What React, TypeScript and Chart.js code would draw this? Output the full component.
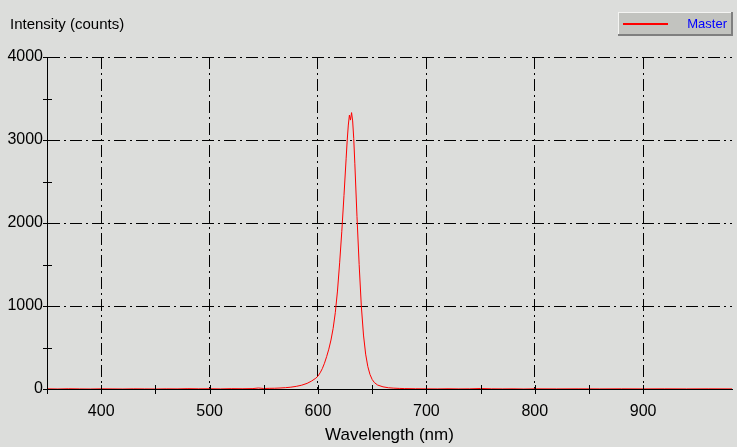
import React, { useEffect, useRef } from "react";
import { Chart, registerables } from "chart.js";
Chart.register(...registerables);

const wavelengths = [
  350, 360, 370, 380, 390, 400, 410, 420, 430, 440,
  450, 460, 470, 480, 490, 500, 510, 520, 530, 540,
  545, 550, 555, 560, 565, 570, 575, 580, 585, 590,
  594, 598, 600, 602, 604, 606, 608, 610, 612, 614,
  616, 618, 620, 622, 624, 626, 627, 628, 629, 630,
  631, 632, 633, 634, 636, 638, 640, 642, 644, 646,
  648, 650, 652, 655, 660, 665, 670, 675, 680, 690,
  700, 710, 720, 730, 740, 750, 760, 770, 780, 790,
  800, 820, 840, 860, 880, 900, 920, 940, 960, 982,
];
const intensities = [
  2, 0, 3, 1, 0, 2, 1, 0, 2, 1,
  0, 2, 1, 4, 2, 3, 1, 4, 3, 5,
  12, 6, 8, 9, 12, 16, 22, 32, 46, 68,
  95, 130, 155, 195, 245, 310, 390, 480, 590, 730,
  920, 1180, 1520, 1900, 2330, 2780, 3000, 3180, 3300, 3240,
  3330, 3230, 3020, 2720, 2080, 1500, 1000, 650, 420, 270,
  175, 115, 78, 48, 26, 15, 10, 7, 5, 3,
  2, 1, 3, 1, 2, 6, 2, 1, 2, 0,
  2, 1, 2, 1, 2, 1, 2, 1, 2, 1,
];
const xTickLabels = [400, 500, 600, 700, 800, 900];
const yTickLabels = [1000, 2000, 3000, 4000, 0];
const seriesName = "Master";
const yTitle = "Intensity (counts)";
const xTitle = "Wavelength (nm)";
const xMin = 350;
const xMax = 982;
const yMin = 0;
const yMax = 4000;

const BG = "#dcdddb";
const FONT = "'Liberation Sans', Arial, sans-serif";

export default function App() {
  const ref = useRef<HTMLCanvasElement | null>(null);
  useEffect(() => {
    document.body.style.margin = "0";
    document.body.style.background = BG;
    const canvas = ref.current!;
    const decor = {
      id: "decor",
      beforeDraw(chart: any) {
        const c = chart.ctx;
        c.save();
        c.fillStyle = BG;
        c.fillRect(0, 0, chart.width, chart.height);
        c.restore();
      },
      afterDraw(chart: any) {
        const c = chart.ctx;
        const xs = chart.scales.x;
        const ys = chart.scales.y;
        const area = chart.chartArea;
        c.save();
        c.strokeStyle = "#000";
        c.lineWidth = 1;
        c.setLineDash([]);
        for (const t of xs.ticks) {
          if (t.value % 50 !== 0) continue;
          const px = Math.round(xs.getPixelForValue(t.value)) + 0.5;
          c.beginPath();
          c.moveTo(px, area.bottom - 4);
          c.lineTo(px, area.bottom + 5);
          c.stroke();
        }
        for (const t of ys.ticks) {
          if (t.value % 500 !== 0) continue;
          const py = Math.round(ys.getPixelForValue(t.value)) + 0.5;
          c.beginPath();
          c.moveTo(area.left - 4, py);
          c.lineTo(area.left + 5, py);
          c.stroke();
        }
        c.fillStyle = "#000";
        c.font = "15px " + FONT;
        c.textAlign = "left";
        c.textBaseline = "middle";
        c.fillText(yTitle, 10, 25);
        const ds = chart.data.datasets[0];
        const bx = 618, by = 12, bw = 115, bh = 24;
        c.fillStyle = "#c2c3bf";
        c.fillRect(bx, by, bw, bh);
        c.fillStyle = "#f4f4f2";
        c.fillRect(bx, by, bw, 1);
        c.fillRect(bx, by, 1, bh);
        c.fillStyle = "#7f7f7f";
        c.fillRect(bx, by + bh - 2, bw, 2);
        c.fillRect(bx + bw - 2, by, 2, bh);
        c.strokeStyle = ds.borderColor;
        c.lineWidth = 2;
        c.beginPath();
        c.moveTo(bx + 5, by + 12);
        c.lineTo(bx + 50, by + 12);
        c.stroke();
        c.fillStyle = "#0000ff";
        c.font = "13px " + FONT;
        c.textAlign = "right";
        c.fillText(ds.label, bx + bw - 6, by + 12);
        c.restore();
      },
    };
    const chart = new Chart(canvas, {
      type: "line",
      data: {
        datasets: [
          {
            label: seriesName,
            data: wavelengths.map((w, i) => ({ x: w, y: intensities[i] })),
            borderColor: "#ff0000",
            borderWidth: 1,
            pointRadius: 0,
            tension: 0,
            fill: false,
          },
        ],
      },
      options: {
        responsive: false,
        animation: false,
        devicePixelRatio: 1,
        layout: { padding: { left: 0, top: 57, right: 5, bottom: 0 } },
        plugins: { legend: { display: false }, tooltip: { enabled: false } },
        scales: {
          x: {
            type: "linear",
            min: xMin,
            max: xMax,
            afterFit: (s: any) => {
              s.height = 58;
              s.paddingLeft = 0;
              s.paddingRight = 0;
            },
            ticks: {
              stepSize: 50,
              autoSkip: false,
              maxRotation: 0,
              padding: 13,
              color: "#000",
              font: { family: FONT, size: 16 },
              callback: (v: any) => (xTickLabels.includes(v) ? String(v) : ""),
            },
            grid: {
              drawTicks: false,
              lineWidth: 1,
              color: (ctx: any) =>
                ctx.tick && xTickLabels.includes(ctx.tick.value) ? "#000" : "rgba(0,0,0,0)",
            },
            border: { display: true, color: "#000", width: 1, dash: [12, 4, 2, 4] },
            title: {
              display: true,
              text: xTitle,
              color: "#000",
              font: { family: FONT, size: 17 },
              padding: { top: 0, bottom: 1 },
            },
          },
          y: {
            type: "linear",
            min: yMin,
            max: yMax,
            afterFit: (s: any) => {
              s.width = 47;
              s.paddingTop = 0;
              s.paddingBottom = 0;
            },
            ticks: {
              stepSize: 500,
              autoSkip: false,
              padding: 4,
              color: "#000",
              font: { family: FONT, size: 16 },
              callback: (v: any) => (yTickLabels.includes(v) ? String(v) : ""),
            },
            grid: {
              drawTicks: false,
              lineWidth: 1,
              color: (ctx: any) =>
                ctx.tick && ctx.tick.value !== 0 && yTickLabels.includes(ctx.tick.value)
                  ? "#000"
                  : "rgba(0,0,0,0)",
            },
            border: { display: true, color: "#000", width: 1, dash: [12, 4, 2, 4] },
          },
        },
      },
      plugins: [decor],
    });
    return () => chart.destroy();
  }, []);
  return (
    <div style={{ width: 737, height: 447, background: BG }}>
      <canvas ref={ref} width={737} height={447} style={{ display: "block" }} />
    </div>
  );
}
